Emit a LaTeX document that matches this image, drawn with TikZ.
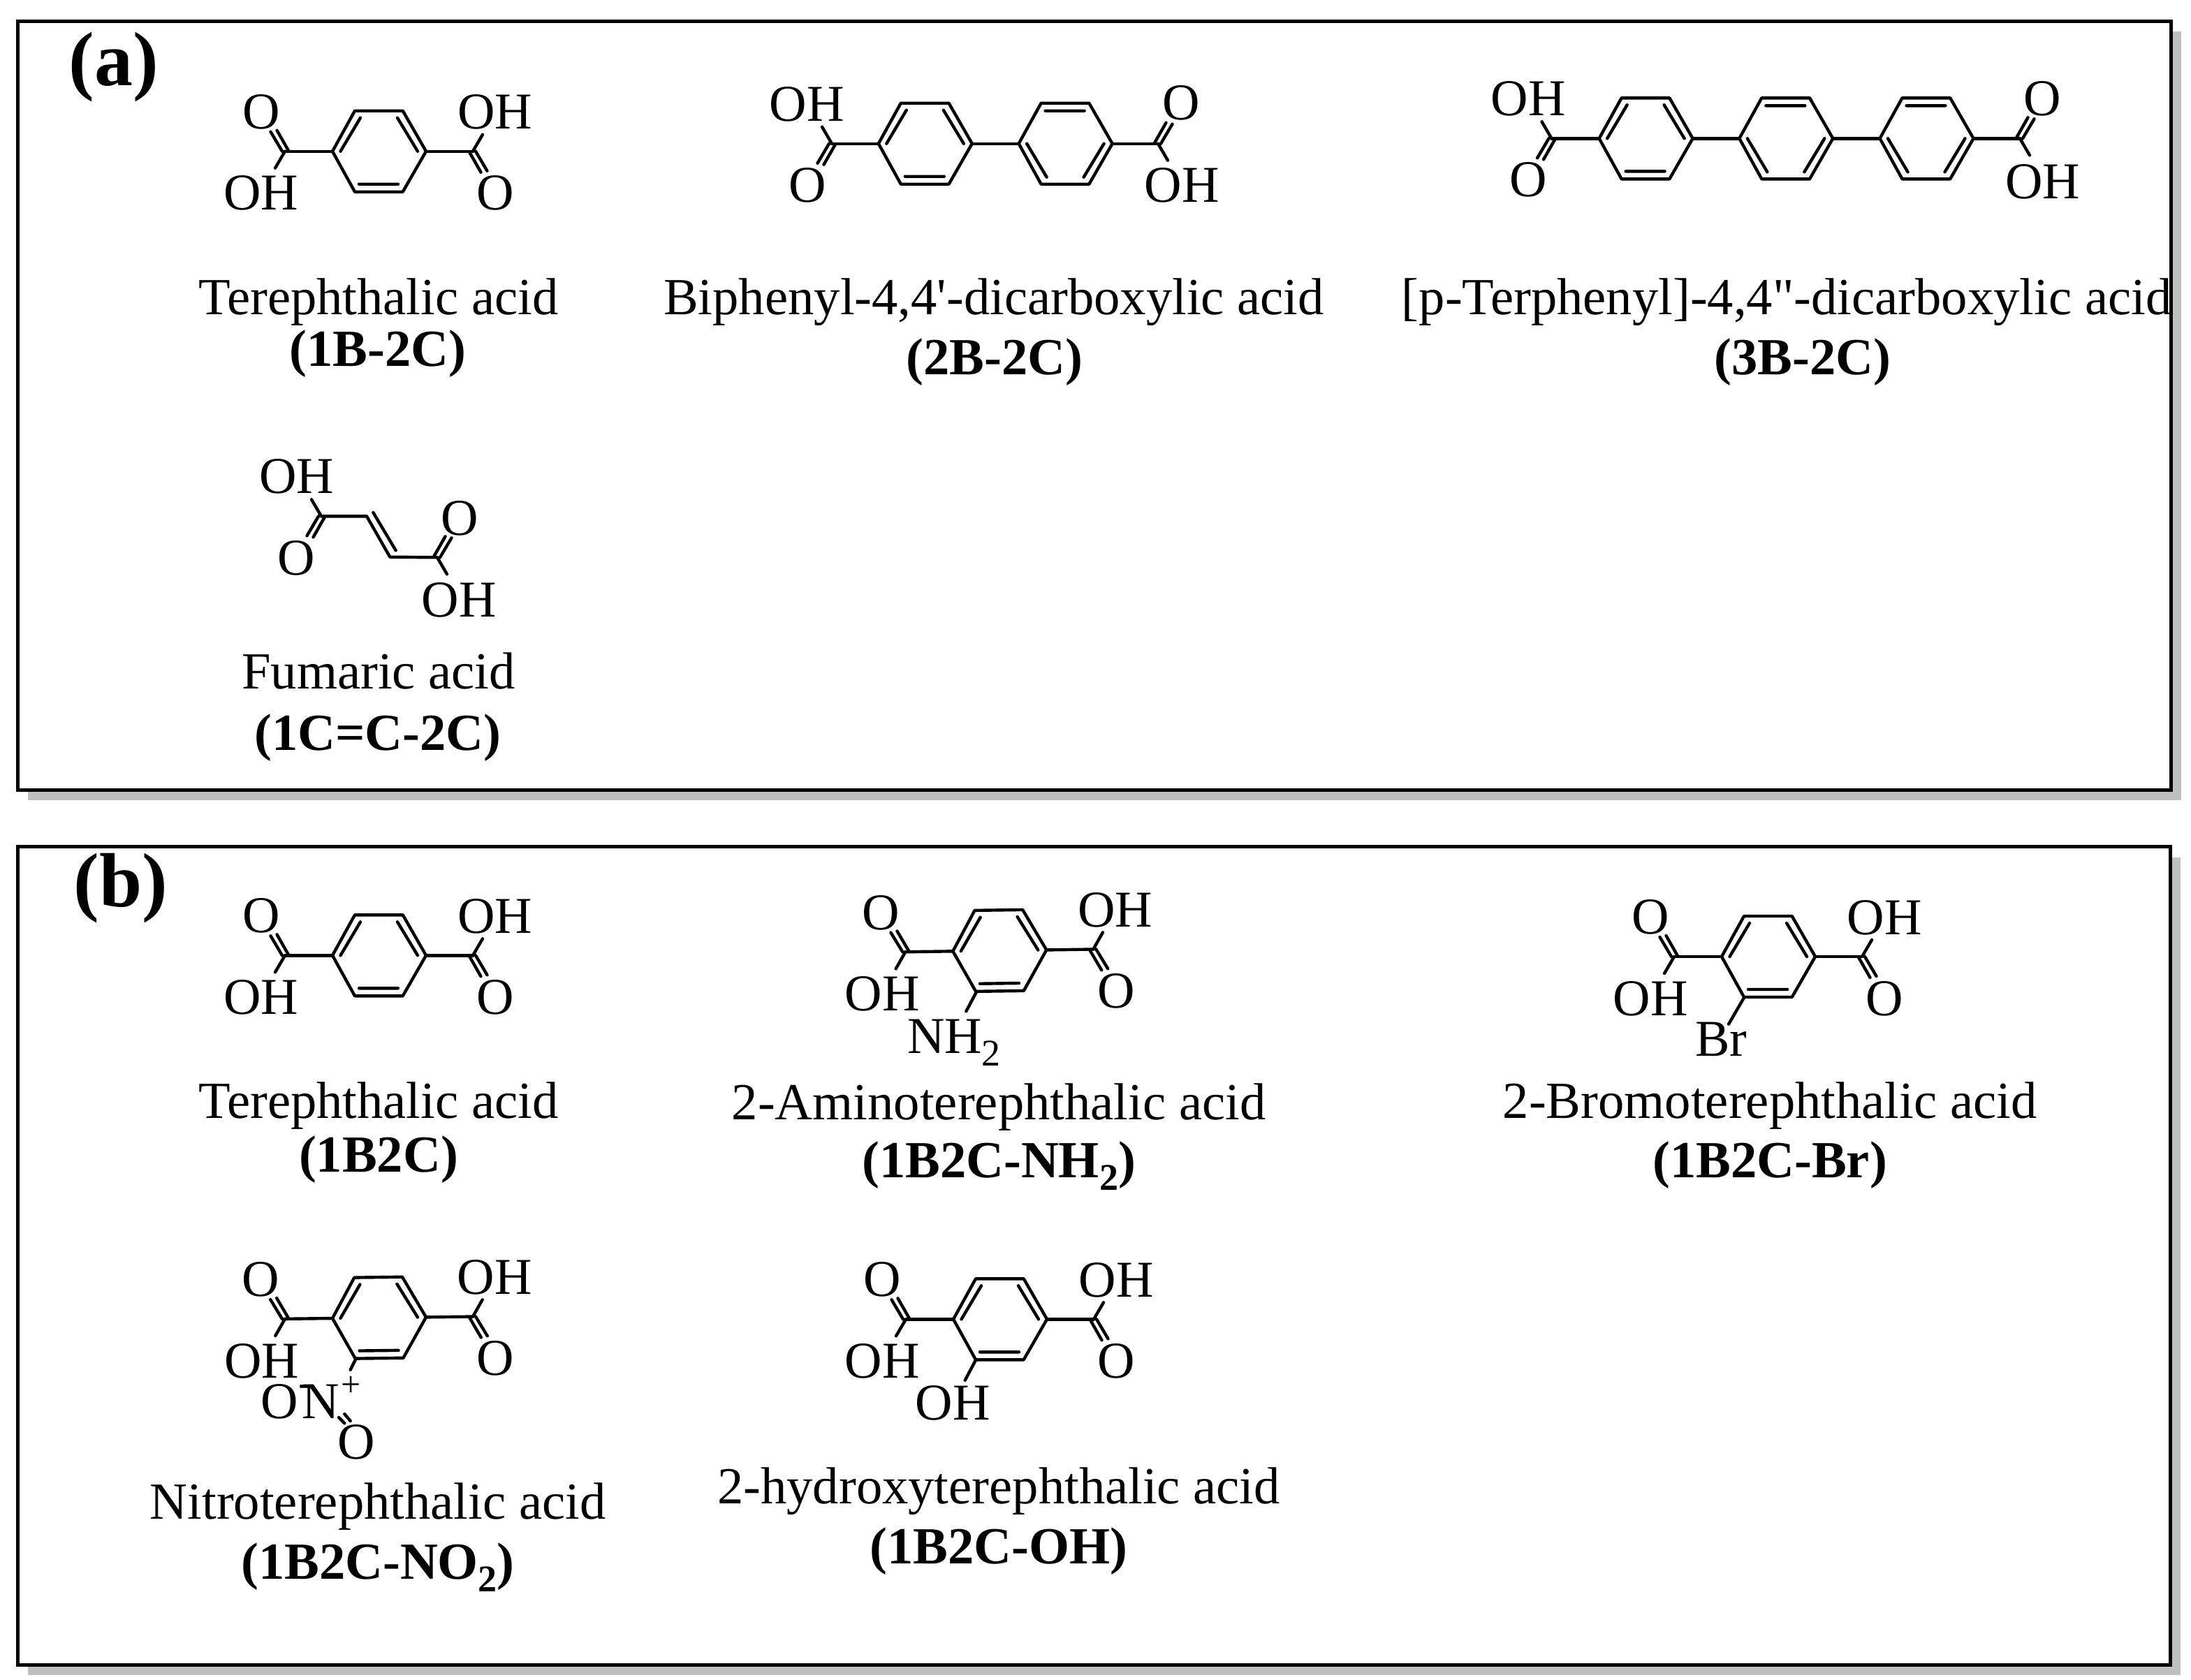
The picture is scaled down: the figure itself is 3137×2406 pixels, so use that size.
\documentclass[tikz,border=0pt]{standalone}
\usepackage{fontspec}
\newfontfamily\chemfont{Liberation Serif}
\newcounter{lblno}
\tikzset{
  bond/.style={line width=4.4pt,line cap=round,line join=round,black},
  frameline/.style={draw=black,line width=5pt,fill=white},
  frameshadow/.style={fill=shadowgray,draw=none},
  atomlbl/.style={inner sep=0pt,outer sep=0pt,anchor=center,font=\chemfont\fontsize{74}{74}\selectfont},
  capt/.style={inner sep=0pt,outer sep=0pt,anchor=base,font=\chemfont\fontsize{74.6}{74.6}\selectfont},
  captb/.style={inner sep=0pt,outer sep=0pt,anchor=base,font=\chemfont\bfseries\fontsize{74.6}{74.6}\selectfont},
  panellbl/.style={inner sep=0pt,outer sep=0pt,anchor=base,font=\chemfont\bfseries\fontsize{110}{110}\selectfont},
}
\definecolor{shadowgray}{HTML}{C0C0C0}
\newcommand{\lowtwo}{\raisebox{-18pt}{\fontsize{54}{54}\selectfont 2}}
\newcommand{\atomat}[3]{\stepcounter{lblno}\node[atomlbl] (atom\thelblno) at (#1,#2) {#3};}
\newcommand{\ringA}[2]{\begin{scope}[shift={(#1,#2)}]
  \draw[bond] (0,0)--(32,-58)--(100.7,-58)--(134,0)--(100.7,58)--(32,58)--cycle;
  \draw[bond] (11.5,0)--(40,-48) (93,-48)--(122,0) (38,47)--(94,47);
\end{scope}}
\newcommand{\ringB}[2]{\begin{scope}[shift={(#1,#2)}]
  \draw[bond] (0,0)--(32,-58)--(100.7,-58)--(134,0)--(100.7,58)--(32,58)--cycle;
  \draw[bond] (38,-47)--(94,-47) (11.5,0)--(40,48) (93,48)--(122,0);
\end{scope}}
\newcommand{\carboxy}[4]{\begin{scope}[shift={(#1,#2)},xscale=#3,yscale=#4]
  \draw[bond] (-4,0)--(-20.5,-28) (5,-1)--(-11.5,-30) (0,0)--(-14,24);
\end{scope}}
% terephthalate core: left ring vertex x y, rotation
\newcommand{\tereph}[3]{\begin{scope}[shift={(#1,#2)},rotate=#3]
  \ringA{0}{0}
  \draw[bond] (-68,0)--(0,0) (134,0)--(201,0);
  \carboxy{-68}{0}{1}{1}
  \carboxy{201}{0}{-1}{-1}
  \atomat{-102}{-56.5}{O}
  \atomat{-102}{60}{OH}
  \atomat{233}{-56}{OH}
  \atomat{233}{60}{O}
\end{scope}}
\begin{document}
\begin{tikzpicture}[x=1pt,y=-1pt]
\useasboundingbox (0,0) rectangle (3137,2406);
\fill[white] (0,0) rectangle (3137,2406);
% panels
\path[frameshadow] (40,45) rectangle (3123,1146);
\path[frameline] (25,31) rectangle (3108,1131);
\path[frameshadow] (40,1228) rectangle (3122,2399);
\path[frameline] (25,1212) rectangle (3107,2384);
\node[panellbl] (pa) at (163,122) {(a)};
\node[panellbl] (pb) at (173,1298) {(b)};
% terephthalic a
\tereph{476}{216.7}{0}
\node[capt] (c1) at (542,450) {Terephthalic acid};
\node[captb] (c1b) at (541,524) {(1B-2C)};
% biphenyl
\ringA{1257.8}{205.7}
\ringB{1458.6}{205.7}
\draw[bond] (1191,205.7)--(1257.8,205.7) (1391.8,205.7)--(1458.6,205.7) (1592.6,205.7)--(1658,205.7);
\carboxy{1191}{205.7}{1}{-1}
\carboxy{1658}{205.7}{-1}{1}
\atomat{1155}{149.3}{OH}
\atomat{1156}{265.7}{O}
\atomat{1691.5}{147.7}{O}
\atomat{1692}{265}{OH}
\node[capt] (c2) at (1423,450) {Biphenyl-4,4'-dicarboxylic acid};
\node[captb] (c2b) at (1424,536) {(2B-2C)};
% terphenyl
\ringA{2289.6}{198.3}
\ringB{2490.3}{198.3}
\ringB{2691.5}{198.3}
\draw[bond] (2221.5,198.3)--(2289.6,198.3) (2423.6,198.3)--(2490.3,198.3) (2624.3,198.3)--(2691.5,198.3) (2825.5,198.3)--(2892,198.3);
\carboxy{2221.5}{198.3}{1}{-1}
\carboxy{2892}{198.3}{-1}{1}
\atomat{2188}{141.7}{OH}
\atomat{2188}{257.7}{O}
\atomat{2924.5}{141.3}{O}
\atomat{2924.5}{260}{OH}
\node[capt] (c3) at (2558,450) {[p-Terphenyl]-4,4"-dicarboxylic acid};
\node[captb] (c3b) at (2581,536) {(3B-2C)};
% fumaric
\draw[bond] (460,739.3)--(525,739.3)--(558.3,797.7)--(626,798.3);
\draw[bond] (534.3,734)--(566.7,788.3);
\carboxy{460}{739.3}{1}{-1}
\carboxy{626}{798.3}{-1}{1}
\atomat{425}{682.5}{OH}
\atomat{424.3}{799}{O}
\atomat{658.3}{742}{O}
\atomat{657.3}{859}{OH}
\node[capt] (c4) at (542,986) {Fumaric acid};
\node[captb] (c4b) at (541,1074) {(1C=C-2C)};
% panel b: terephthalic
\tereph{476}{1368.3}{0}
\node[capt] (d1) at (542,1601) {Terephthalic acid};
\node[captb] (d1b) at (542,1678) {(1B2C)};
% amino
\tereph{1364.3}{1362.3}{0.8}
\draw[bond] (1398.3,1420)--(1383.3,1448.3);
\node[inner sep=0pt,outer sep=0pt,anchor=base west,font=\chemfont\fontsize{74}{74}\selectfont] (nh2) at (1299,1508) {NH\lowtwo};
\node[capt] (d2) at (1430,1603) {2-Aminoterephthalic acid};
\node[captb] (d2b) at (1430,1686) {(1B2C-NH\lowtwo)};
% bromo
\tereph{2465}{1370}{0}
\draw[bond] (2497.3,1428.3)--(2475,1466.7);
\node[inner sep=0pt,outer sep=0pt,anchor=base,font=\chemfont\fontsize{74}{74}\selectfont] (br) at (2464,1512.7) {Br};
\node[capt] (d3) at (2534,1601) {2-Bromoterephthalic acid};
\node[captb] (d3b) at (2534,1686) {(1B2C-Br)};
% nitro
\tereph{476}{1888}{0.7}
\draw[bond] (510,1945)--(501.7,1961.7);
\atomat{400.7}{2007.7}{O}
\atomat{459}{2007.7}{N}
\node[inner sep=0pt,outer sep=0pt,font=\chemfont\fontsize{50}{50}\selectfont] (nplus) at (503,1985) {+};
\node[inner sep=0pt,outer sep=0pt,font=\chemfont\fontsize{62}{62}\selectfont] (ominus) at (438,1992) {-};
\draw[bond] (485,2030)--(493.3,2038.3) (493.3,2025)--(501.7,2035);
\atomat{510.7}{2065}{O}
\node[capt] (d4) at (541,2175) {Nitroterephthalic acid};
\node[captb] (d4b) at (541,2261) {(1B2C-NO\lowtwo)};
% hydroxy
\tereph{1365}{1889.3}{0}
\draw[bond] (1397.3,1947.3)--(1381.7,1976.7);
\atomat{1364}{2009}{OH}
\node[capt] (d5) at (1430,2153) {2-hydroxyterephthalic acid};
\node[captb] (d5b) at (1430,2239) {(1B2C-OH)};
\end{tikzpicture}
\end{document}
